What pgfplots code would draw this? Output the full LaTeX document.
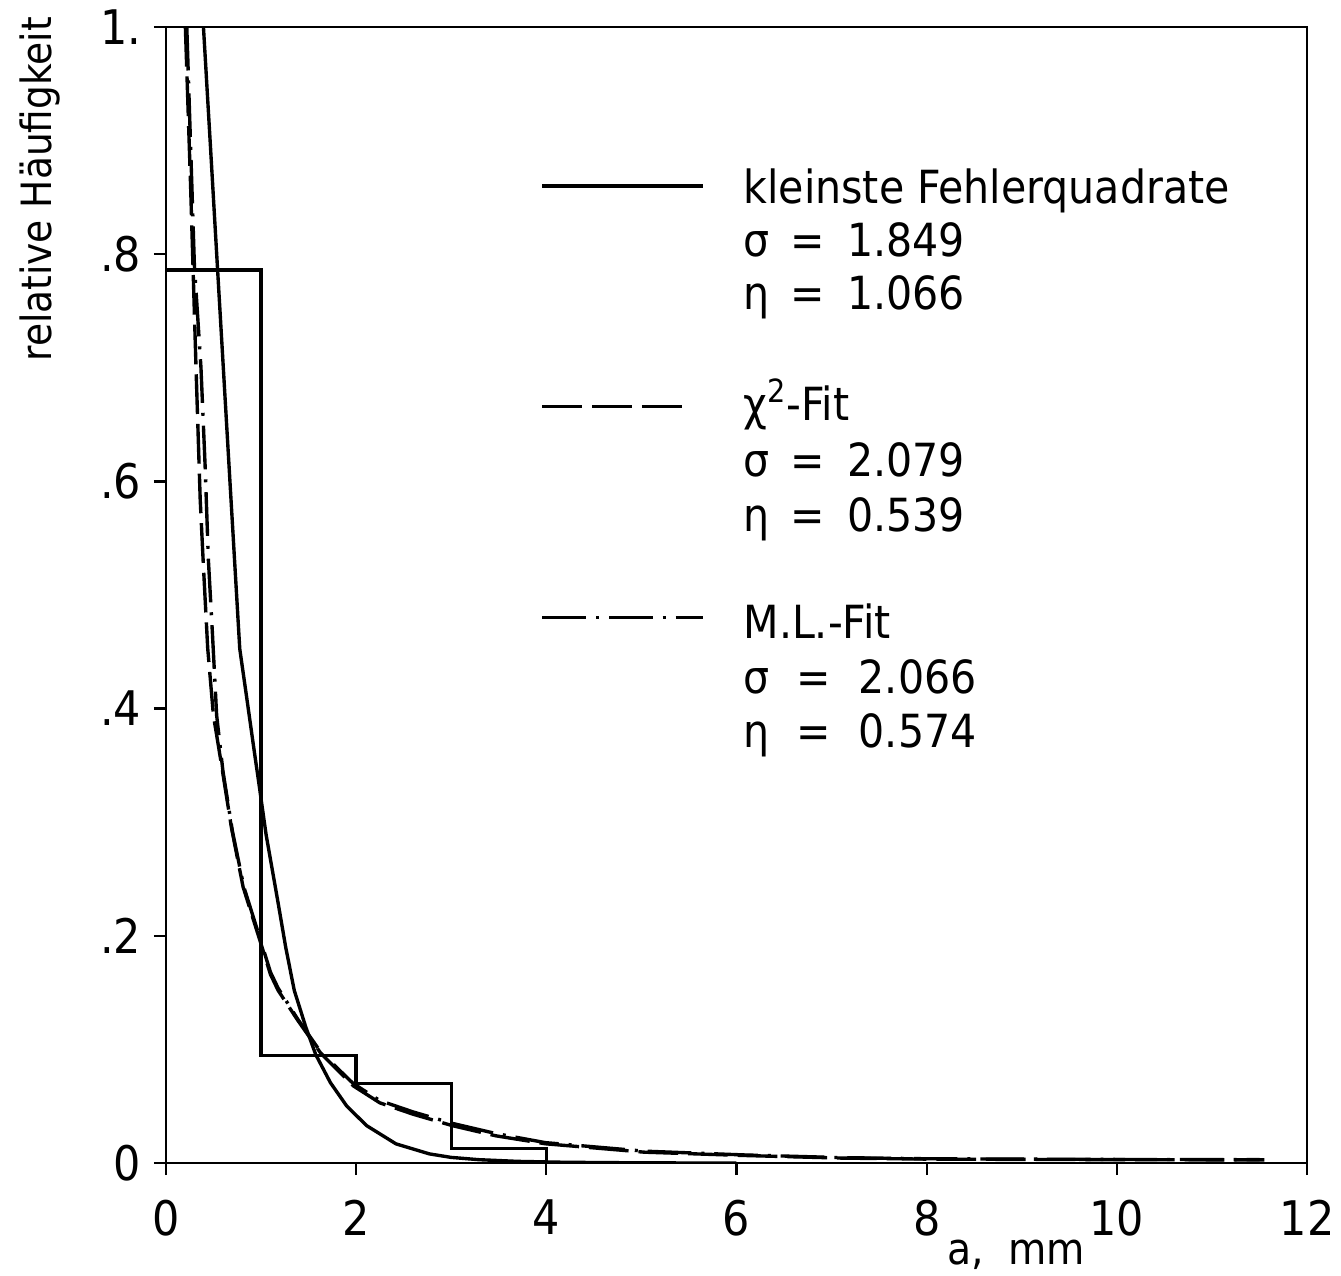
\documentclass[border=0pt]{standalone}
\usepackage{fontspec}
\setmainfont{DejaVu Sans Condensed}
\usepackage{pgfplots}
\pgfplotsset{compat=1.18}

\begin{document}
\begin{tikzpicture}
\begin{axis}[
    scale only axis,
    width=574.5pt, height=572pt,
    xmin=0, xmax=12, ymin=0, ymax=1,
    axis line style={line width=1.2pt},
    xtick={0,2,...,12},
    ytick={0,0.2,0.4,0.6,0.8,1},
    yticklabels={0,.2,.4,.6,.8,1.},
    xtick pos=lower, ytick pos=left,
    tick align=outside,
    major tick length=6pt,
    tick style={line width=1.2pt, black},
    /pgf/number format/assume math mode=true,
    ticklabel style={font=\fontsize{24}{26}\selectfont},
    xticklabel style={yshift=-9pt},
    yticklabel style={xshift=-3pt},
    label style={font=\fontsize{22}{24}\selectfont},
    xlabel={a,\ \ mm},
    xlabel style={at={(axis description cs:0.745,0)}, anchor=center, yshift=-46pt},
    ylabel={relative Häufigkeit},
    ylabel style={at={(axis description cs:-0.1105,0.857)}, anchor=center, font=\fontsize{21}{23}\selectfont},
    clip=true,
]
% histogram
\addplot[black, line width=1.6pt] coordinates {
    (0,0.786) (1,0.786) (1,0.095) (2,0.095) (2,0.070) (3,0.070)
    (3,0.0125) (4,0.0125) (4,0)
};
% kleinste Fehlerquadrate
\addplot[black, line width=1.7pt] coordinates {
    (0.395,1.0) (0.47,0.893) (0.544,0.786) (0.604,0.700) (0.673,0.601)
    (0.777,0.4525) (0.846,0.412) (0.92,0.368) (0.985,0.330) (1.054,0.289)
    (1.176,0.231) (1.26,0.19) (1.35,0.152) (1.47,0.120) (1.575,0.0956)
    (1.73,0.0708) (1.90,0.0504) (2.11,0.033) (2.42,0.0169) (2.77,0.0081)
    (3.0,0.005) (3.29,0.003) (3.7,0.0015) (4.2,0.0007) (5,0.0002) (6,0)
};
% chi^2-Fit
\addplot[black, line width=1.7pt, dash pattern=on 20pt off 5pt] coordinates {
    (0.205,1.0) (0.26,0.86) (0.317,0.700) (0.361,0.584) (0.395,0.525)
    (0.440,0.453) (0.500,0.394) (0.586,0.350) (0.690,0.295) (0.812,0.243)
    (1.0,0.193) (1.1,0.166) (1.18,0.152) (1.384,0.126) (1.626,0.097)
    (1.97,0.068) (2.25,0.053) (2.60,0.043) (3.01,0.033) (3.47,0.024)
    (3.99,0.017) (5.03,0.0096) (6.07,0.0067) (7.1,0.0044) (8,0.0035)
    (10,0.003) (11.55,0.0028)
};
% M.L.-Fit
\addplot[black, line width=1.7pt, dash pattern=on 22pt off 5pt on 1.5pt off 5pt] coordinates {
    (0.22,1.0) (0.30,0.79) (0.369,0.700) (0.413,0.613) (0.447,0.531)
    (0.489,0.467) (0.534,0.394) (0.60,0.345) (0.70,0.292) (0.82,0.243)
    (1.0,0.195) (1.1,0.168) (1.18,0.154) (1.384,0.127) (1.626,0.098)
    (1.97,0.070) (2.25,0.055) (2.60,0.045) (3.01,0.035) (3.47,0.026)
    (3.99,0.018) (5.03,0.0105) (6.07,0.0072) (7.1,0.0048) (8,0.0038)
    (10,0.0032) (11.5,0.003)
};
% legend
\draw[black, line width=1.7pt] (axis cs:3.96,0.860) -- (axis cs:5.65,0.860);
\draw[black, line width=1.7pt, dash pattern=on 20pt off 5pt] (axis cs:3.96,0.666) -- (axis cs:5.45,0.666);
\draw[black, line width=1.7pt, dash pattern=on 22pt off 5pt on 1.5pt off 5pt] (axis cs:3.96,0.48) -- (axis cs:5.65,0.48);
\begin{scope}[every node/.style={anchor=base west, inner sep=0, font=\fontsize{23}{27}\selectfont}]
\node at (axis cs:6.07,0.8444) {kleinste Fehlerquadrate};
\node at (axis cs:6.07,0.7981) {σ\hspace{0.45em}=\hspace{0.5em}1.849};
\node at (axis cs:6.07,0.7509) {η\hspace{0.45em}=\hspace{0.5em}1.066};
\node at (axis cs:6.07,0.6538) {χ\textsuperscript{2}-Fit};
\node at (axis cs:6.07,0.6040) {σ\hspace{0.45em}=\hspace{0.5em}2.079};
\node at (axis cs:6.07,0.5559) {η\hspace{0.45em}=\hspace{0.5em}0.539};
\node at (axis cs:6.07,0.4615) {M.L.-Fit};
\node at (axis cs:6.07,0.4135) {σ\hspace{0.6em}=\hspace{0.6em}2.066};
\node at (axis cs:6.07,0.3654) {η\hspace{0.6em}=\hspace{0.6em}0.574};
\end{scope}
\end{axis}
\path (current axis.south west) ++(-83.5pt,-51pt) rectangle ([shift={(12.5pt,13.5pt)}]current axis.north east);
\end{tikzpicture}
\end{document}
